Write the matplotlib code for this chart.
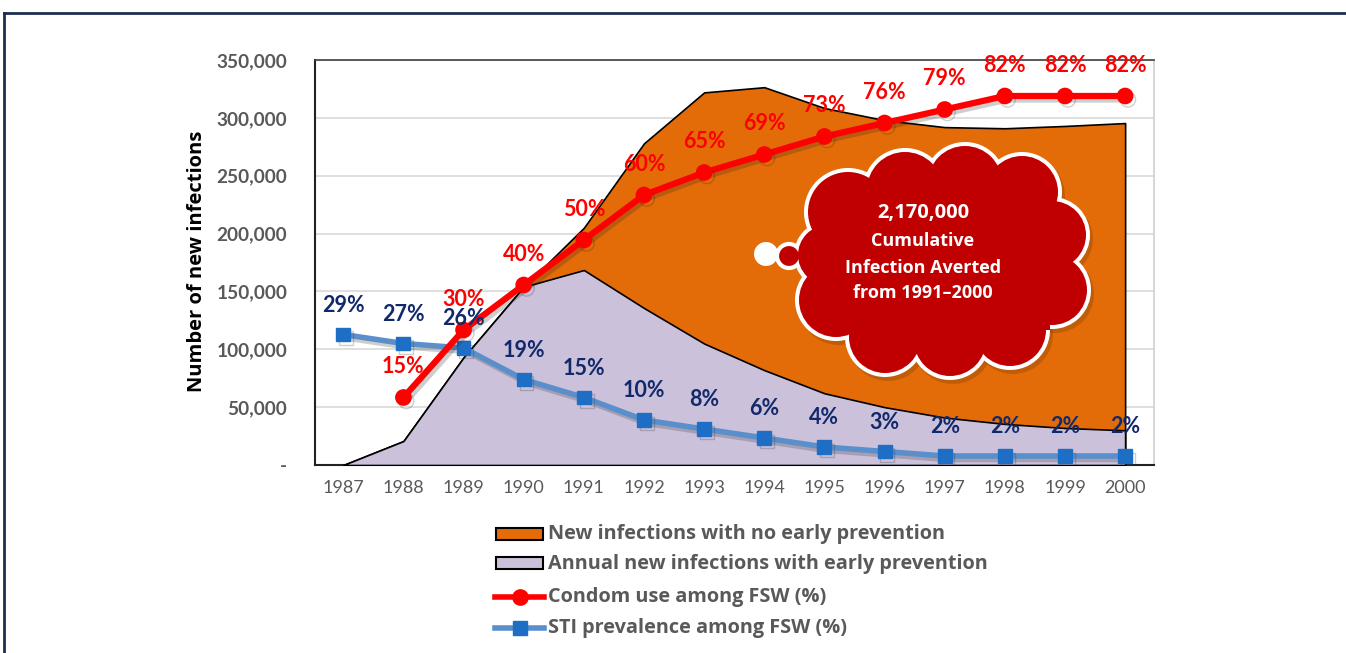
import matplotlib
matplotlib.use("Agg")
import matplotlib.pyplot as plt
import matplotlib.patheffects as pe
from matplotlib.patches import Circle, Rectangle
from matplotlib.lines import Line2D

plt.rcParams['font.family'] = ['Lato', 'DejaVu Sans']
wide = ['Open Sans', 'DejaVu Sans']

# data
years = [1987, 1988, 1989, 1990, 1991, 1992, 1993, 1994, 1995, 1996, 1997, 1998, 1999, 2000]
no_prevention = [0, 20700, 93000, 154000, 205000, 278000, 322000, 326500, 308500,
                 298000, 292000, 291000, 293000, 295500]
with_prevention = [0, 20700, 93000, 154000, 168500, 135700, 105000, 82000, 62000,
                   50000, 41000, 35500, 32000, 30000]
condom_years = years[1:]
condom_pct = [15, 30, 40, 50, 60, 65, 69, 73, 76, 79, 82, 82, 82]
sti_pct = [29, 27, 26, 19, 15, 10, 8, 6, 4, 3, 2, 2, 2, 2]

W, H = 1346, 653
fig = plt.figure(figsize=(W / 100, H / 100), dpi=100)

def px(x0, y0, x1, y1):
    # pixel box (top-left origin) -> figure rect
    return [x0 / W, 1 - y1 / H, (x1 - x0) / W, (y1 - y0) / H]

gray = '#595959'
orange = '#e36c09'
lavender = '#ccc1da'
red = '#ff0000'
navy = '#11296b'
blue_line = '#5b8fcc'
blue_mark = '#1f6ec6'

ax = fig.add_axes(px(315, 60, 1154, 465))
x = list(range(len(years)))
ax.fill_between(x, no_prevention, 0, facecolor=orange, edgecolor='black', lw=1.2, zorder=2)
ax.fill_between(x, with_prevention, 0, facecolor=lavender, edgecolor='black', lw=1.2, zorder=3)
ax.set_xlim(-0.47, 13.48)
ax.set_ylim(0, 350000)
ax.set_yticks(range(0, 350001, 50000))
ax.set_yticklabels(['-'] + ['{:,}'.format(v) for v in range(50000, 350001, 50000)],
                   fontsize=13.7, fontweight='bold', color=gray)
ax.set_xticks(x)
ax.set_xticklabels([str(y) for y in years], fontsize=13, color=gray)
ax.tick_params(axis='y', length=0, pad=20)
ax.tick_params(axis='x', length=0, pad=11)
ax.grid(axis='y', color='#d9d9d9', lw=1.2, zorder=0)
ax.set_axisbelow(True)
ax.spines['left'].set_color('#222222')
ax.spines['left'].set_linewidth(1.5)
ax.spines['bottom'].set_color('#222222')
ax.spines['bottom'].set_linewidth(1.5)
ax.spines['top'].set_color('#404040')
ax.spines['top'].set_linewidth(1.2)
ax.spines['right'].set_color('#d0d0d0')
ax.spines['right'].set_linewidth(1.2)

fig.text(197 / W, 1 - 261 / H, 'Number of new infections', rotation=90,
         ha='center', va='center', fontsize=14.5, fontweight='bold', color='black',
         family=wide)

# percentages on a hidden 0-90% scale
ax2 = ax.twinx()
ax2.set_ylim(0, 90)
ax2.set_axis_off()
shadow = [pe.SimpleLineShadow(offset=(2, -2.5), alpha=0.22, shadow_color='#222222'), pe.Normal()]
xc = [years.index(y) for y in condom_years]
ax2.plot(x, sti_pct, color=blue_line, lw=4, marker='s', ms=10, mfc=blue_mark,
         mec=blue_mark, path_effects=shadow, zorder=5)
ax2.plot(xc, condom_pct, color=red, lw=4.5, marker='o', ms=11, mfc=red, mec=red,
         path_effects=shadow, zorder=6)
for xi, v in zip(xc, condom_pct):
    ax2.annotate(f'{v}%', (xi, v), xytext=(0, 22), textcoords='offset points',
                 ha='center', va='center', fontsize=15.5, fontweight='bold', color=red, zorder=7)
for xi, v in zip(x, sti_pct):
    ax2.annotate(f'{v}%', (xi, v), xytext=(0, 21), textcoords='offset points',
                 ha='center', va='center', fontsize=15.5, fontweight='bold', color=navy, zorder=7)

# cloud callout
cax = fig.add_axes(px(740, 135, 1100, 390))
cax.set_xlim(740, 1100)
cax.set_ylim(390, 135)
cax.set_axis_off()
bumps = [(848, 212, 40), (905, 190, 38), (965, 183, 37), (1022, 192, 36),
         (1052, 235, 34), (1052, 290, 35), (1010, 330, 36), (950, 340, 36),
         (885, 337, 36), (836, 300, 37), (828, 255, 30)]
cloud_red = '#c00000'
for cx, cy, r in bumps:
    cax.add_patch(Circle((cx + 3, cy + 4), r + 4, color='#7a3a05', alpha=0.3, lw=0))
for cx, cy, r in bumps:
    cax.add_patch(Circle((cx, cy), r + 4, color='white', lw=0))
cax.add_patch(Circle((766, 254), 12, color='white', lw=0))
cax.add_patch(Circle((789, 256), 12, facecolor=cloud_red, edgecolor='white', lw=3))
for cx, cy, r in bumps:
    cax.add_patch(Circle((cx, cy), r, color=cloud_red, lw=0))
cax.add_patch(Rectangle((835, 200), 215, 130, color=cloud_red, lw=0))
cax.text(923, 213, '2,170,000', ha='center', va='center', color='white',
         fontsize=14.5, fontweight='bold', family=wide)
for yy, t in zip([241, 268, 293], ['Cumulative', 'Infection Averted', 'from 1991\u20132000']):
    cax.text(923, yy, t, ha='center', va='center', color='white', fontsize=13,
             fontweight='bold', family=wide)

# legend and frame drawn in a pixel overlay
lax = fig.add_axes([0, 0, 1, 1])
lax.set_xlim(0, W)
lax.set_ylim(H, 0)
lax.set_axis_off()
lax.add_line(Line2D([4, W], [13, 13], color='#1f2d50', lw=2))
lax.add_line(Line2D([4, 4], [13, H], color='#1f2d50', lw=2))
lax.add_patch(Rectangle((496, 528), 47, 12, facecolor=orange, edgecolor='black', lw=1.5))
lax.add_patch(Rectangle((496, 557), 47, 12, facecolor=lavender, edgecolor='black', lw=1.5))
lax.add_line(Line2D([495, 544], [597, 597], color=red, lw=4))
lax.add_line(Line2D([520], [597], color=red, marker='o', ms=11))
lax.add_line(Line2D([495, 544], [628, 628], color=blue_line, lw=4))
lax.add_line(Line2D([520], [628], color=blue_mark, marker='s', ms=10))
labels = ['New infections with no early prevention',
          'Annual new infections with early prevention',
          'Condom use among FSW (%)',
          'STI prevalence among FSW (%)']
for yy, t in zip([534, 564, 597, 628], labels):
    lax.text(548, yy, t, ha='left', va='center', fontsize=14.3, fontweight='bold', color=gray,
             family=wide)

fig.savefig('out.png', dpi=100)
